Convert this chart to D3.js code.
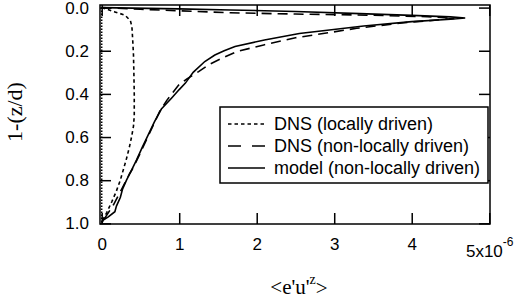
<!DOCTYPE html>
<html><head><meta charset="utf-8">
<script src="https://cdn.jsdelivr.net/npm/d3@7"></script>
<style>
body{margin:0;background:#fff;}
svg{display:block;}
</style></head>
<body>
<script>
// ---- data ----
const xTicks = [0, 1, 2, 3, 4, 5];
const yTicks = [0, 0.2, 0.4, 0.6, 0.8, 1.0];
const legendLabels = ["DNS (locally driven)", "DNS (non-locally driven)", "model (non-locally driven)"];

// DNS locally driven (dotted): depth 1-(z/d) and flux in units of 1e-6
const dnsLocalDepth = [0, 0.02, 0.035, 0.06, 0.09, 0.15, 0.22, 0.3, 0.4, 0.5, 0.55, 0.6, 0.65, 0.7, 0.75, 0.8, 0.85, 0.9, 0.95, 0.98, 1.0];
const dnsLocalValue = [0, 0.17, 0.3, 0.37, 0.39, 0.4, 0.41, 0.415, 0.42, 0.42, 0.41, 0.385, 0.355, 0.32, 0.28, 0.24, 0.19, 0.13, 0.065, 0.02, 0];

// model locally driven (fine dotted, zero everywhere)
const modelLocalDepth = [0, 1.0];
const modelLocalValue = [0, 0];

// DNS non-locally driven (dashed)
const dnsNonLocalDepth = [0, 0.008, 0.015, 0.024, 0.03, 0.034, 0.042, 0.05, 0.056, 0.07, 0.096, 0.115, 0.14, 0.173, 0.204, 0.235, 0.265, 0.297, 0.33, 0.36, 0.43, 0.48, 0.58, 0.68, 0.74, 0.77, 0.84, 0.915, 0.976, 1.0];
const dnsNonLocalValue = [0, 0.5, 1.0, 1.66, 2.5, 3.3, 4.2, 4.55, 4.37, 3.9, 3.29, 2.95, 2.5, 2.09, 1.74, 1.55, 1.38, 1.25, 1.1, 0.99, 0.84, 0.75, 0.62, 0.49, 0.41, 0.36, 0.26, 0.15, 0.04, 0];

// model non-locally driven (solid)
const modelDepth = [0, 0.006, 0.011, 0.018, 0.028, 0.036, 0.043, 0.048, 0.054, 0.065, 0.085, 0.12, 0.15, 0.18, 0.2, 0.22, 0.25, 0.3, 0.35, 0.38, 0.42, 0.47, 0.53, 0.59, 0.65, 0.706, 0.75, 0.8, 0.84, 0.88, 0.92, 0.946, 0.97, 0.985, 1.0];
const modelValue = [0, 1.0, 1.66, 2.5, 3.33, 4.0, 4.5, 4.69, 4.5, 4.0, 3.38, 2.55, 2.1, 1.72, 1.58, 1.46, 1.33, 1.18, 1.08, 1.0, 0.9, 0.77, 0.68, 0.6, 0.52, 0.45, 0.39, 0.32, 0.27, 0.24, 0.19, 0.17, 0.085, 0.02, 0];

// ---- layout ----
const W = 514, H = 308;
const sans = "'Liberation Sans', Arial, Helvetica, sans-serif";
const serif = "'Liberation Serif', 'Times New Roman', Times, serif";

const svg = d3.select("body").append("svg").attr("width", W).attr("height", H);

const x = d3.scaleLinear().domain([-0.022, 5.01]).range([100, 490]);
const y = d3.scaleLinear().domain([-0.012, 1.003]).range([5, 224]);

const tick = 11;
const axisStroke = 1.5;

function styleAxis(g) {
  g.selectAll(".domain").remove();
  g.selectAll(".tick line").attr("stroke", "#000").attr("stroke-width", axisStroke);
}

// bottom axis
const gB = svg.append("g").attr("transform", `translate(0,${y.range()[1]})`)
  .call(d3.axisBottom(x).tickValues(xTicks).tickSizeInner(-tick).tickSizeOuter(0).tickPadding(10)
    .tickFormat(d => d === 5 ? "" : d3.format("d")(d)))
  .call(styleAxis);
gB.selectAll(".tick text").attr("font-family", sans).attr("font-size", 17).attr("fill", "#000").attr("dy", "0.95em");
// label for 5 with exponent
const t5 = gB.selectAll(".tick").filter(d => d === 5).select("text").attr("dy", "1.35em");
t5.append("tspan").text("5x10");
t5.append("tspan").text("-6").attr("font-size", 12).attr("dy", "-0.9em");

// top axis
svg.append("g").attr("transform", `translate(0,${y.range()[0]})`)
  .call(d3.axisTop(x).tickValues(xTicks).tickSizeInner(-tick).tickSizeOuter(0).tickFormat(""))
  .call(styleAxis);

// left axis
const gL = svg.append("g").attr("transform", `translate(${x.range()[0]},0)`)
  .call(d3.axisLeft(y).tickValues(yTicks).tickSizeInner(-tick).tickSizeOuter(0).tickPadding(11)
    .tickFormat(d3.format(".1f")))
  .call(styleAxis);
gL.selectAll(".tick text").attr("font-family", sans).attr("font-size", 17).attr("fill", "#000");

// right axis
svg.append("g").attr("transform", `translate(${x.range()[1]},0)`)
  .call(d3.axisRight(y).tickValues(yTicks).tickSizeInner(-tick).tickSizeOuter(0).tickFormat(""))
  .call(styleAxis);

// frame
svg.append("rect")
  .attr("x", x.range()[0]).attr("y", y.range()[0])
  .attr("width", x.range()[1] - x.range()[0]).attr("height", y.range()[1] - y.range()[0])
  .attr("fill", "none").attr("stroke", "#000").attr("stroke-width", axisStroke);

// curves
const line = d3.line().x(d => x(d[1])).y(d => y(d[0]));
const series = [
  {depth: modelLocalDepth, value: modelLocalValue, dash: "1.5,1.5", w: 1.5},
  {depth: dnsLocalDepth, value: dnsLocalValue, dash: "3.5,3", w: 1.6},
  {depth: dnsNonLocalDepth, value: dnsNonLocalValue, dash: "10,6", w: 1.6},
  {depth: modelDepth, value: modelValue, dash: null, w: 1.6}
];
series.forEach(s => {
  svg.append("path")
    .datum(d3.zip(s.depth, s.value))
    .attr("d", line)
    .attr("fill", "none").attr("stroke", "#000")
    .attr("stroke-width", s.w)
    .attr("stroke-dasharray", s.dash);
});

// legend
const lg = svg.append("g");
lg.append("rect").attr("x", 220).attr("y", 107).attr("width", 268).attr("height", 76)
  .attr("fill", "#fff").attr("stroke", "#000").attr("stroke-width", 1.5);
const legDash = ["3.5,3", "13,11", null];
legendLabels.forEach((lab, i) => {
  const yy = 124 + i * 22;
  lg.append("line").attr("x1", 228).attr("x2", 265).attr("y1", yy).attr("y2", yy)
    .attr("stroke", "#000").attr("stroke-width", 1.6).attr("stroke-dasharray", legDash[i]);
  lg.append("text").attr("x", 274).attr("y", yy).attr("dy", "0.35em")
    .attr("font-family", sans).attr("font-size", 18).attr("fill", "#000").text(lab);
});

// axis titles
const xt = svg.append("text").attr("x", 299).attr("y", 294).attr("text-anchor", "middle")
  .attr("font-family", serif).attr("font-size", 21).attr("fill", "#000");
xt.append("tspan").text("<e'u'");
xt.append("tspan").text("z").attr("font-size", 14).attr("dy", "-0.7em");
xt.append("tspan").text(">").attr("dy", "0.5em");

svg.append("text").attr("transform", "translate(22,112) rotate(-90)")
  .attr("text-anchor", "middle")
  .attr("font-family", serif).attr("font-size", 22).attr("fill", "#000")
  .text("1-(z/d)");
</script>
</body></html>
